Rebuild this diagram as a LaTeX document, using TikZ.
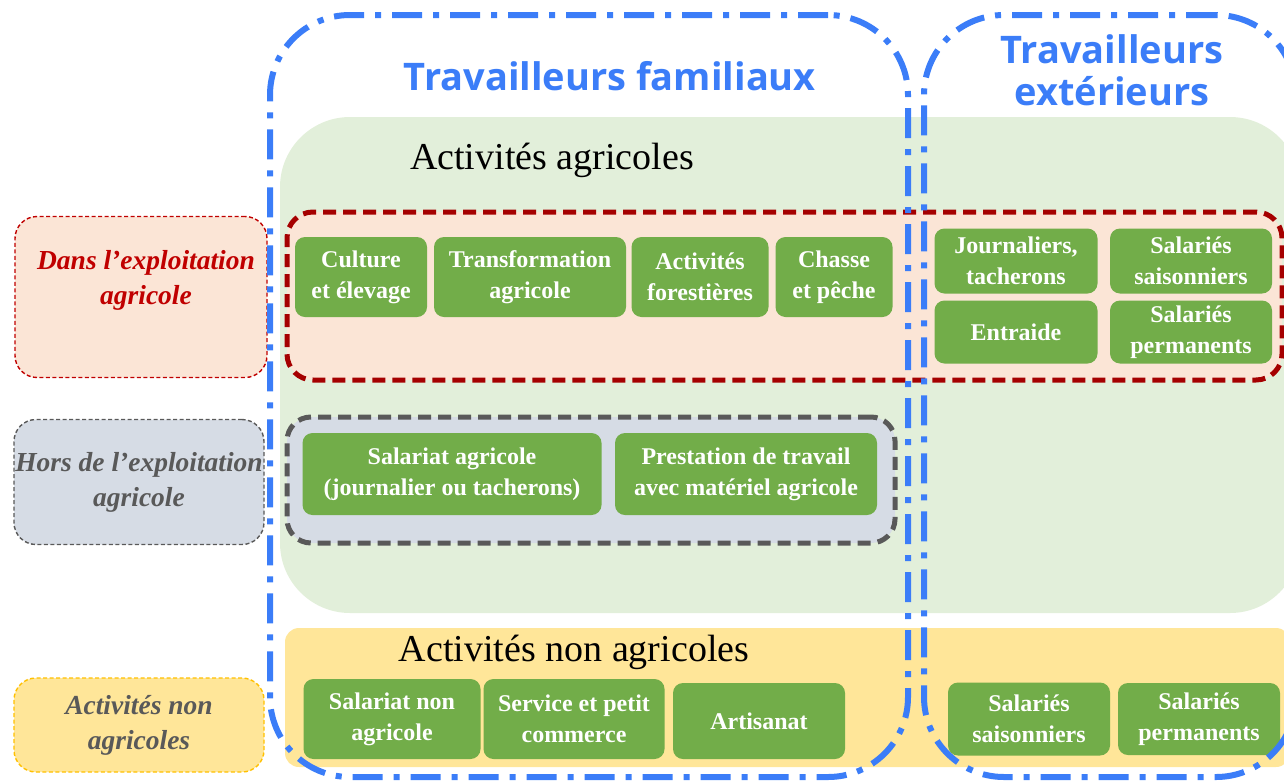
\documentclass[tikz,border=0pt]{standalone}
\usepackage{fontspec}
\setmainfont{Liberation Serif}
\newfontfamily\titlefont{Open Sans}
\usetikzlibrary{positioning}

\definecolor{famblue}{RGB}{59,125,248}
\definecolor{agrizone}{RGB}{226,239,218}
\definecolor{peach}{RGB}{251,229,214}
\definecolor{greyblue}{RGB}{214,220,229}
\definecolor{paleyellow}{RGB}{255,230,153}
\definecolor{actgreen}{RGB}{114,173,73}
\definecolor{darkred}{RGB}{165,0,0}
\definecolor{labred}{RGB}{192,0,0}
\definecolor{darkgrey}{RGB}{89,89,89}
\definecolor{gold}{RGB}{255,192,0}

\begin{document}
\begin{tikzpicture}[x=1pt,y=-1pt,
            actnode/.style={rectangle, rounded corners=10pt, fill=actgreen, text=white, align=center, inner sep=0pt,
                font=\bfseries\fontsize{24}{31}\selectfont},
            sidenode/.style={rectangle, rounded corners=22pt, line width=1.4pt, dash pattern=on 4pt off 2.5pt,
                align=center, inner sep=0pt, font=\bfseries\itshape\fontsize{27.5}{35}\selectfont},
            zonebox/.style={rectangle, line width=5pt, dash pattern=on 13pt off 7pt, inner sep=0pt},
            workerbox/.style={rectangle, draw=famblue, line width=6pt, rounded corners=80pt, inner sep=0pt,
                dash pattern=on 30pt off 11pt on 6pt off 11pt},
            headtext/.style={text=famblue, align=center, font=\titlefont\bfseries\fontsize{38}{42}\selectfont},
            bigtext/.style={font=\fontsize{38}{40}\selectfont},
            ]
            \useasboundingbox (0,0) rectangle (1284,782);

            %Background zones
            \node[rectangle, fill=agrizone, rounded corners=70pt, minimum width=1020pt, minimum height=496pt]
                (agri) at (790,365) {};
            \node[rectangle, fill=paleyellow, rounded corners=14pt, minimum width=1005pt, minimum height=139pt]
                (nonagri) at (787.5,697.5) {};
            \node[zonebox, draw=darkred, fill=peach, rounded corners=26pt, minimum width=995pt, minimum height=168pt]
                (dansbox) at (784.5,296) {};
            \node[zonebox, draw=darkgrey, fill=greyblue, rounded corners=24pt, minimum width=608pt, minimum height=126pt]
                (horsbox) at (591,480) {};

            %Side labels
            \node[sidenode, draw=labred, fill=peach, minimum width=252pt, minimum height=161pt]
                (dans) at (141,297) {};
            \node[text=labred, align=center, font=\bfseries\itshape\fontsize{27.5}{35}\selectfont]
                (danstxt) at (146,280) {Dans l’exploitation\\agricole};
            \node[sidenode, draw=darkgrey, fill=greyblue, text=darkgrey, minimum width=250pt, minimum height=125pt]
                (hors) at (139,482) {Hors de l’exploitation\\agricole};
            \node[sidenode, draw=gold, fill=paleyellow, text=darkgrey, minimum width=250pt, minimum height=94pt]
                (horsagri) at (139,725) {Activités non\\agricoles};

            %Titles
            \node[bigtext] (agrititle) at (552,160) {Activités agricoles};
            \node[bigtext] (nonagrititle) at (574,652) {Activités non agricoles};

            %Activities
            \node[actnode, minimum width=132pt, minimum height=80pt] (culture) at (361,277) {Culture\\et élevage};
            \node[actnode, minimum width=192pt, minimum height=80pt] (transfo) at (530,277) {Transformation\\agricole};
            \node[actnode, minimum width=137pt, minimum height=80pt] (foret)   at (700,277) {Activités\\forestières};
            \node[actnode, minimum width=117pt, minimum height=80pt] (chasse)  at (834,277) {Chasse\\et pêche};

            \node[actnode, minimum width=163pt, minimum height=65pt] (journ)    at (1016,261) {Journaliers,\\tacherons};
            \node[actnode, minimum width=162pt, minimum height=65pt] (saisona)  at (1191,261) {Salariés\\saisonniers};
            \node[actnode, minimum width=163pt, minimum height=63pt] (entraide) at (1016,332) {Entraide};
            \node[actnode, minimum width=162pt, minimum height=63pt] (perma)    at (1191,332) {Salariés\\permanents};

            \node[actnode, minimum width=299pt, minimum height=82pt] (salagri) at (452,474) {Salariat agricole\\(journalier ou tacherons)};
            \node[actnode, minimum width=262pt, minimum height=82pt] (presta)  at (746,474) {Prestation de travail\\avec matériel agricole};

            \node[actnode, minimum width=177pt, minimum height=80pt] (salnon)   at (392,719) {Salariat non\\agricole};
            \node[actnode, minimum width=181pt, minimum height=80pt] (service)  at (574,719) {Service et petit\\commerce};
            \node[actnode, minimum width=172pt, minimum height=76pt] (artisan)  at (759,721) {Artisanat};
            \node[actnode, minimum width=162pt, minimum height=73pt] (saisonb)  at (1029,719) {Salariés\\saisonniers};
            \node[actnode, minimum width=162pt, minimum height=72pt] (permb)    at (1199,719) {Salariés\\permanents};

            %Workers
            \node[workerbox, minimum width=638pt, minimum height=762pt] (famil) at (589,396) {};
            \node[workerbox, minimum width=372pt, minimum height=762pt] (exter) at (1110,396) {};
            \node[headtext] (familtitle) at (610,76) {Travailleurs familiaux};
            \node[headtext] (extertitle) at (1112,70) {Travailleurs\\extérieurs};

        \end{tikzpicture}
\end{document}
